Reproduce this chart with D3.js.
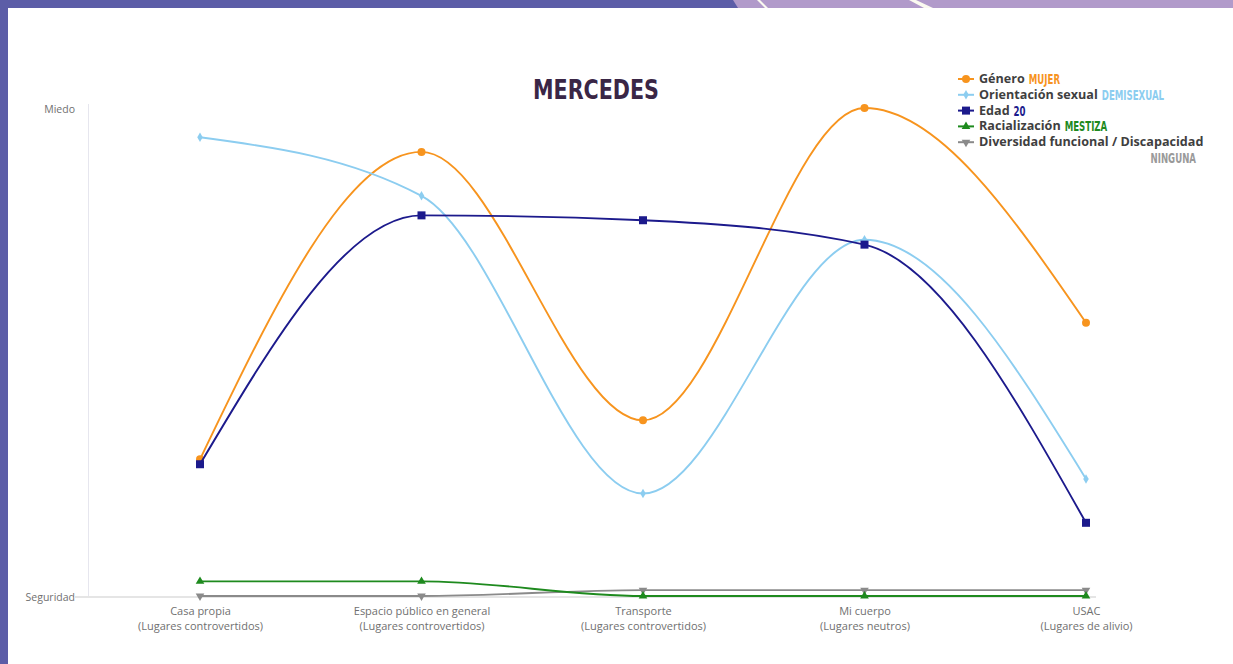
<!DOCTYPE html>
<html>
<head>
<meta charset="utf-8">
<script src="https://cdn.jsdelivr.net/npm/d3@7"></script>
<style>
html,body{margin:0;padding:0;background:#fff;}
svg{display:block;}
</style>
</head>
<body>
<svg id="chart" width="1233" height="664"></svg>
<script>
// ---- Data ----
const categories = ["Casa propia", "Espacio público en general", "Transporte", "Mi cuerpo", "USAC"];
const categoryGroups = ["(Lugares controvertidos)", "(Lugares controvertidos)", "(Lugares controvertidos)", "(Lugares neutros)", "(Lugares de alivio)"];
const yTickLabels = ["Seguridad", "Miedo"];
const yTickValues = [0, 100];

const genero = [28, 91, 36, 100, 56];
const orientacion = [94, 82, 21, 73, 24];
const edad = [27, 78, 77, 72, 15];
const racializacion = [3, 3, 0, 0, 0];
const diversidad = [0, 0, 1.2, 1.2, 1.2];

const seriesNames = ["Género", "Orientación sexual", "Edad", "Racialización", "Diversidad funcional / Discapacidad"];
const seriesValuesLabels = ["MUJER", "DEMISEXUAL", "20", "MESTIZA", "NINGUNA"];
const seriesColors = ["#f7941e", "#8ccdf0", "#1c1a8c", "#1e8a1e", "#8a8a8a"];
const seriesSymbols = ["circle", "diamond", "square", "triangleUp", "triangleDown"];
const seriesData = [genero, orientacion, edad, racializacion, diversidad];
const title = "MERCEDES";

// ---- Drawing ----
const svg = d3.select("#chart");
const W = 1233, H = 664;

// frame
svg.append("rect").attr("x",0).attr("y",0).attr("width",W).attr("height",H).attr("fill","#fff");
svg.append("rect").attr("x",0).attr("y",0).attr("width",W).attr("height",8).attr("fill","#b19aca");
svg.append("polygon").attr("points","0,0 733,0 738,8 0,8").attr("fill","#5c5da7");
svg.append("polygon").attr("points","757,0 760,0 768,8 765,8").attr("fill","#fbfaf0");
svg.append("polygon").attr("points","909,0 916,0 933,8 924,8").attr("fill","#fbfaf0");
svg.append("rect").attr("x",0).attr("y",0).attr("width",8).attr("height",H).attr("fill","#5c5da7");

const x = d3.scalePoint().domain(categories).range([200, 1086]);
const y = d3.scaleLinear().domain([0, 100]).range([596, 108]);

// axes lines
svg.append("line").attr("x1",88.5).attr("x2",88.5).attr("y1",104).attr("y2",596)
  .attr("stroke","#e6e6ee").attr("stroke-width",1);
svg.append("line").attr("x1",75).attr("x2",1096).attr("y1",597).attr("y2",597)
  .attr("stroke","#dcdcdc").attr("stroke-width",1.5);

// y labels
const yAxis = d3.axisLeft(y).tickValues(yTickValues).tickFormat((d,i)=>yTickLabels[i]).tickSize(0).tickPadding(0);
const gy = svg.append("g").attr("transform","translate(75,1)").call(yAxis);
gy.select(".domain").remove();
gy.selectAll("text").attr("font-family","'Open Sans', sans-serif").attr("font-size",10.5).attr("fill","#707070");

// x labels
const xAxis = d3.axisBottom(x).tickSize(0).tickFormat(()=> "");
const gx = svg.append("g").attr("transform","translate(0,597)").call(xAxis);
gx.select(".domain").remove();
gx.selectAll(".tick").each(function(d,i){
  const t = d3.select(this).append("text").attr("text-anchor","middle")
    .attr("font-family","'Open Sans', sans-serif").attr("font-size",11).attr("fill","#707070");
  t.append("tspan").attr("x",0).attr("y",18).text(categories[i]);
  t.append("tspan").attr("x",0).attr("y",33).text(categoryGroups[i]);
});

// symbols
function sym(g, type, color, cx, cy){
  if(type==="circle") g.append("circle").attr("cx",cx).attr("cy",cy).attr("r",4).attr("fill",color);
  else if(type==="diamond") g.append("path").attr("d",d3.symbol().type(d3.symbolDiamond).size(26)()).attr("transform",`translate(${cx},${cy})`).attr("fill",color);
  else if(type==="square") g.append("rect").attr("x",cx-4).attr("y",cy-4).attr("width",8).attr("height",8).attr("fill",color);
  else if(type==="triangleUp") g.append("path").attr("d",d3.symbol().type(d3.symbolTriangle).size(32)()).attr("transform",`translate(${cx},${cy})`).attr("fill",color);
  else if(type==="triangleDown") g.append("path").attr("d",d3.symbol().type(d3.symbolTriangle).size(32)()).attr("transform",`translate(${cx},${cy}) rotate(180)`).attr("fill",color);
}

const line = d3.line().x((d,i)=>x(categories[i])).y(d=>y(d)).curve(d3.curveMonotoneX);
const drawOrder = [4,3,0,1,2];
drawOrder.forEach(s=>{
  const g = svg.append("g");
  g.append("path").datum(seriesData[s]).attr("d",line).attr("fill","none")
    .attr("stroke",seriesColors[s]).attr("stroke-width",1.9);
  seriesData[s].forEach((v,i)=>sym(g, seriesSymbols[s], seriesColors[s], x(categories[i]), y(v)));
});

// title (condensed display look)
svg.append("text").attr("x",596).attr("y",99).attr("text-anchor","middle")
  .attr("font-family","'DejaVu Sans Condensed', 'DejaVu Sans', sans-serif").attr("font-weight","bold")
  .attr("font-size",27).attr("fill","#3a2646")
  .attr("textLength",126).attr("lengthAdjust","spacingAndGlyphs").text(title);

// legend
const lg = svg.append("g");
seriesNames.forEach((name,i)=>{
  const ly = 79 + i*15.8;
  lg.append("line").attr("x1",958).attr("x2",974).attr("y1",ly).attr("y2",ly).attr("stroke",seriesColors[i]).attr("stroke-width",2);
  sym(lg, seriesSymbols[i], seriesColors[i], 966, ly);
  const t = lg.append("text").attr("x",979).attr("y",ly+4).attr("font-family","'Open Sans', sans-serif")
    .attr("font-weight","bold").attr("font-size",12.6).attr("fill","#3f3f3f").text(name);
  const w = t.node().getComputedTextLength();
  const vx = i<4 ? 979 + w + 4 : 1196;
  const vy = i<4 ? ly+5 : ly+21;
  lg.append("text").attr("transform",`translate(${vx},${vy}) scale(0.66,1)`)
    .attr("text-anchor", i<4 ? "start" : "end")
    .attr("font-family","'DejaVu Sans Condensed','DejaVu Sans',sans-serif").attr("font-weight","bold")
    .attr("font-size",14.5).attr("fill", i<4 ? seriesColors[i] : "#9a9a9a").text(seriesValuesLabels[i]);
});
</script>
</body>
</html>
